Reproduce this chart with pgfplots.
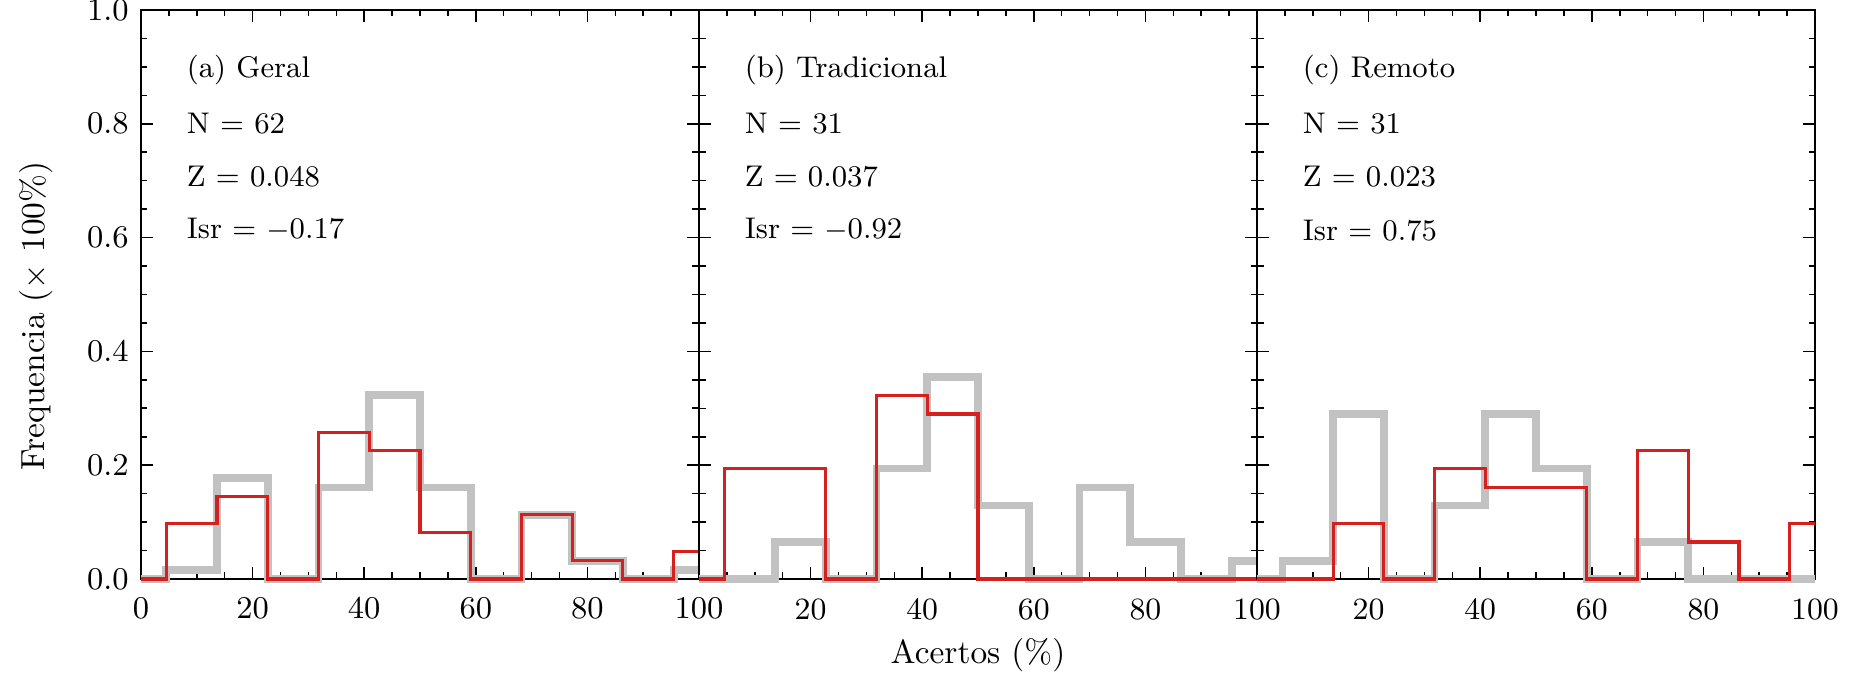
\documentclass[border=0pt]{standalone}
\usepackage{pgfplots}
\pgfplotsset{compat=1.18}

\definecolor{histred}{RGB}{214,32,30}
\definecolor{histgray}{RGB}{194,194,194}

\pgfplotsset{
  panel/.style={
    width=5.58cm, height=5.69cm, scale only axis,
    xmin=0, xmax=100, ymin=0, ymax=1,
    xtick={0,20,...,100}, ytick={0,0.2,...,1.0},
    minor x tick num=3, minor y tick num=3,
    tick align=inside,
    major tick length=0.12cm, minor tick length=0.065cm,
    axis line style={line width=0.5pt},
    every tick/.style={black, line width=0.45pt},
    clip=false,
    tick label style={font=\fontsize{8.8}{10}\selectfont},
    xticklabel style={yshift=-2pt},
    yticklabel style={/pgf/number format/.cd, fixed, fixed zerofill, precision=1},
  },
  gray hist/.style={histgray, line width=2.2pt, const plot mark mid},
  red hist/.style={histred, line width=0.9pt, const plot mark mid},
}

\newcommand{\stats}[4]{%
  \node[anchor=west, font=\fontsize{8.5}{10}\selectfont] at (axis cs:6,0.895) {#1};
  \node[anchor=west, font=\fontsize{8.5}{10}\selectfont] at (axis cs:6,0.800) {N = #2};
  \node[anchor=west, font=\fontsize{8.5}{10}\selectfont] at (axis cs:6,0.707) {Z = #3};
  \node[anchor=west, font=\fontsize{8.5}{10}\selectfont] at (axis cs:6,0.613) {Isr = #4};
}

\begin{document}
\begin{tikzpicture}
\useasboundingbox (-1.41cm,-0.97cm) rectangle (17.17cm,5.79cm);

% (a) Geral
\begin{axis}[panel, name=pa, at={(0cm,0cm)}, anchor=south west,
    ylabel={Frequencia ($\times$ 100\%)},
    ylabel style={at={(axis description cs:-0.188,0.462)}, anchor=center,
                  font=\fontsize{9.5}{11}\selectfont}]
\addplot[gray hist] coordinates {(0,0) (9.09,0.016) (18.18,0.177) (27.27,0) (36.36,0.161) (45.45,0.323)
  (54.55,0.161) (63.64,0) (72.73,0.113) (81.82,0.032) (90.91,0) (100,0.016)};
\addplot[red hist] coordinates {(0,0) (9.09,0.097) (18.18,0.145) (27.27,0) (36.36,0.258) (45.45,0.226)
  (54.55,0.081) (63.64,0) (72.73,0.113) (81.82,0.032) (90.91,0) (100,0.048)};
\stats{(a) Geral}{62}{0.048}{$-$0.17}
\end{axis}

% (b) Tradicional
\begin{axis}[panel, name=pb, at={(5.58cm,0cm)}, anchor=south west,
    yticklabels={}, xticklabels={,20,40,60,80,100},
    xlabel={Acertos (\%)},
    xlabel style={at={(axis description cs:0.5,-0.134)}, anchor=center,
                  font=\fontsize{9.5}{11}\selectfont}]
\addplot[gray hist] coordinates {(0,0) (9.09,0) (18.18,0.065) (27.27,0) (36.36,0.194) (45.45,0.355)
  (54.55,0.129) (63.64,0) (72.73,0.161) (81.82,0.065) (90.91,0) (100,0.032)};
\addplot[red hist] coordinates {(0,0) (9.09,0.194) (18.18,0.194) (27.27,0) (36.36,0.323) (45.45,0.290)
  (54.55,0) (63.64,0) (72.73,0) (81.82,0) (90.91,0) (100,0)};
\stats{(b) Tradicional}{31}{0.037}{$-$0.92}
\end{axis}

% (c) Remoto
\begin{axis}[panel, name=pc, at={(11.16cm,0cm)}, anchor=south west,
    yticklabels={}, xticklabels={,20,40,60,80,100}]
\addplot[gray hist] coordinates {(0,0) (9.09,0.032) (18.18,0.290) (27.27,0) (36.36,0.129) (45.45,0.290)
  (54.55,0.194) (63.64,0) (72.73,0.065) (81.82,0) (90.91,0) (100,0)};
\addplot[red hist] coordinates {(0,0) (9.09,0) (18.18,0.097) (27.27,0) (36.36,0.194) (45.45,0.161)
  (54.55,0.161) (63.64,0) (72.73,0.226) (81.82,0.065) (90.91,0) (100,0.097)};
\stats{(c) Remoto}{31}{0.023}{0.75}
\end{axis}
\end{tikzpicture}
\end{document}
